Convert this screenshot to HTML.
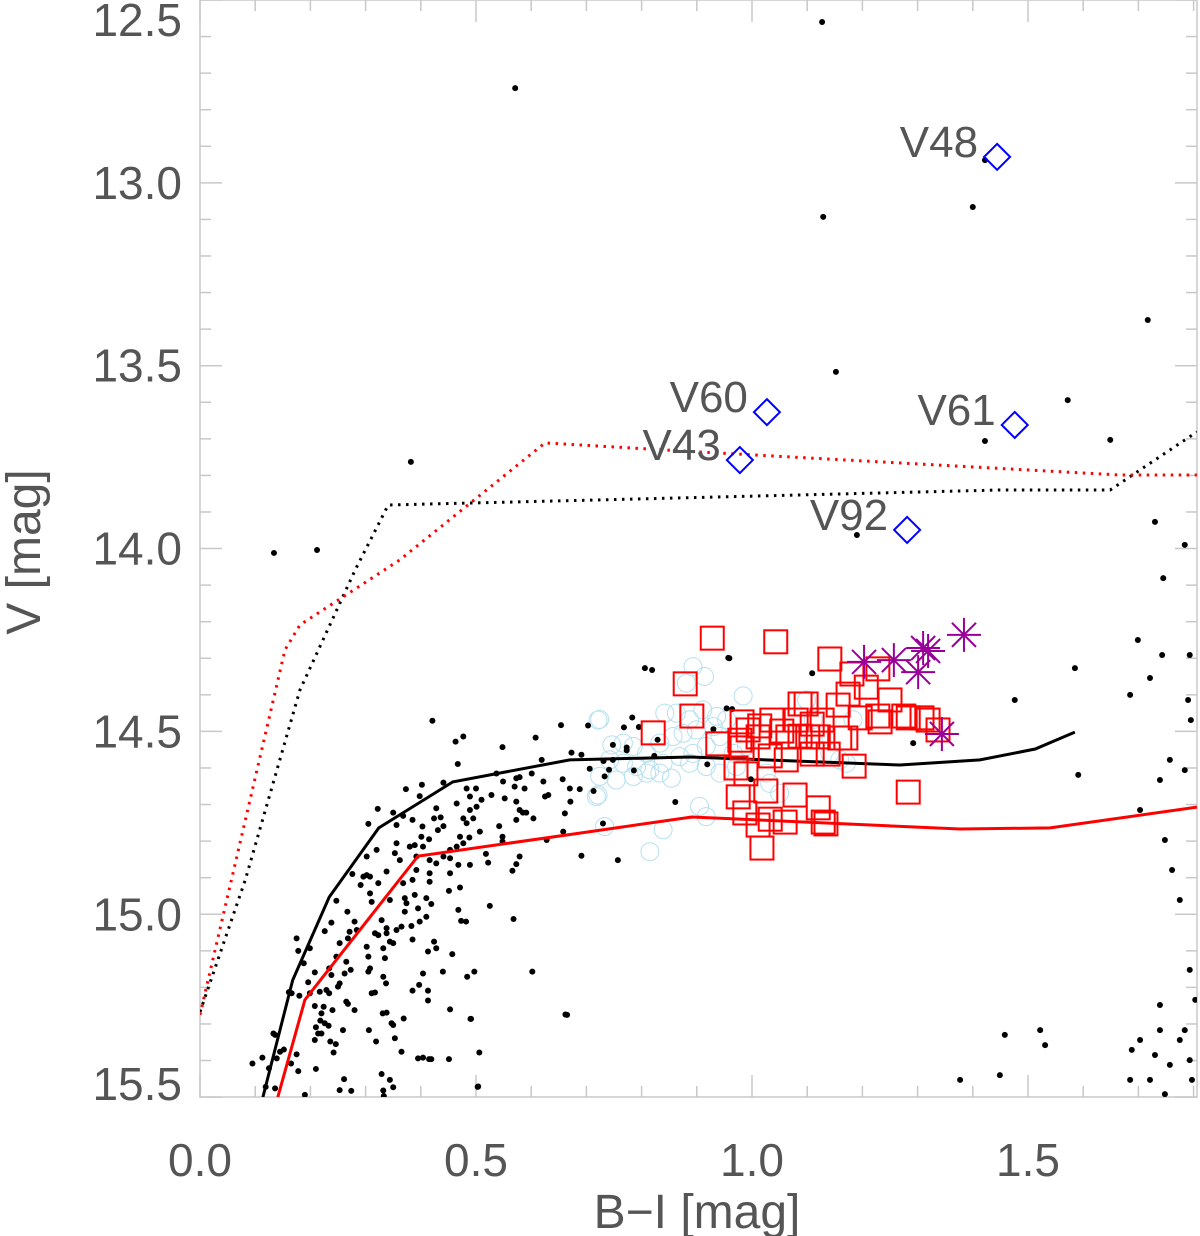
<!DOCTYPE html>
<html><head><meta charset="utf-8"><style>
body{margin:0;background:#fff;}
svg{display:block;font-family:"Liberation Sans",sans-serif;}
</style></head><body>
<svg id="chart" width="1200" height="1236" viewBox="0 0 1200 1236" xmlns="http://www.w3.org/2000/svg">
<g id="axes"></g>
<g id="marks"></g>
<g id="labels"></g>
</svg>
<script>
const xTicks=[0.0,0.5,1.0,1.5];
const xTickLabels=["0.0","0.5","1.0","1.5"];
const yTicks=[12.5,13.0,13.5,14.0,14.5,15.0,15.5];
const yTickLabels=["12.5","13.0","13.5","14.0","14.5","15.0","15.5"];
const isoBlackSolid=[[0.114,15.5],[0.168,15.18],[0.234,14.953],[0.324,14.764],[0.458,14.638],[0.67,14.578],[0.888,14.57],[1.268,14.592],[1.413,14.578],[1.513,14.548],[1.585,14.502]];
const isoRedSolid=[[0.141,15.5],[0.19,15.234],[0.395,14.841],[0.688,14.778],[0.891,14.734],[1.377,14.767],[1.54,14.764],[1.806,14.707]];
const isoBlackDotted=[[0,15.267],[0.082,14.906],[0.181,14.387],[0.281,14.059],[0.341,13.881],[0.725,13.867],[1.449,13.84],[1.649,13.84],[1.703,13.785],[1.806,13.681]];
const isoRedDotted=[[0,15.275],[0.154,14.277],[0.181,14.209],[0.362,14.031],[0.625,13.711],[0.906,13.736],[1.667,13.799],[1.806,13.799]];
const dots=[[0.421,14.471],[0.463,14.528],[0.477,14.514],[0.467,14.589],[0.548,14.543],[0.608,14.517],[0.654,14.483],[0.673,14.558],[0.373,14.658],[0.402,14.646],[0.441,14.64],[0.398,14.677],[0.322,14.712],[0.35,14.722],[0.305,14.753],[0.356,14.756],[0.368,14.731],[0.385,14.742],[0.403,14.76],[0.424,14.738],[0.428,14.71],[0.436,14.735],[0.441,14.759],[0.431,14.77],[0.415,14.795],[0.401,14.788],[0.389,14.811],[0.38,14.815],[0.404,14.815],[0.356,14.806],[0.353,14.833],[0.32,14.824],[0.302,14.842],[0.362,14.852],[0.392,14.842],[0.416,14.852],[0.428,14.861],[0.441,14.842],[0.453,14.824],[0.465,14.815],[0.477,14.806],[0.471,14.788],[0.483,14.751],[0.489,14.715],[0.465,14.697],[0.477,14.738],[0.495,14.738],[0.501,14.706],[0.51,14.687],[0.489,14.678],[0.483,14.656],[0.5,14.656],[0.528,14.674],[0.537,14.615],[0.549,14.637],[0.552,14.683],[0.573,14.628],[0.579,14.625],[0.57,14.651],[0.588,14.656],[0.601,14.615],[0.619,14.578],[0.622,14.637],[0.631,14.674],[0.625,14.678],[0.573,14.692],[0.579,14.715],[0.585,14.722],[0.591,14.722],[0.573,14.742],[0.604,14.738],[0.542,14.759],[0.507,14.774],[0.488,14.79],[0.548,14.788],[0.548,14.801],[0.657,14.631],[0.658,14.774],[0.661,14.724],[0.671,14.692],[0.67,14.656],[0.628,14.797],[0.518,14.835],[0.522,14.859],[0.489,14.865],[0.468,14.865],[0.453,14.847],[0.453,14.888],[0.416,14.888],[0.416,14.911],[0.392,14.879],[0.385,14.906],[0.368,14.915],[0.338,14.883],[0.323,14.915],[0.308,14.897],[0.296,14.897],[0.291,14.92],[0.302,14.893],[0.276,14.89],[0.308,14.943],[0.311,14.966],[0.344,14.961],[0.371,14.956],[0.389,14.947],[0.41,14.956],[0.419,14.972],[0.395,14.984],[0.374,14.97],[0.371,14.993],[0.41,15.007],[0.398,15.02],[0.383,15.032],[0.365,15.034],[0.356,15.043],[0.329,15.016],[0.338,15.038],[0.317,15.052],[0.323,15.057],[0.338,15.052],[0.344,15.075],[0.35,15.079],[0.332,15.093],[0.335,15.12],[0.385,15.069],[0.424,15.075],[0.428,15.093],[0.413,15.102],[0.457,15.109],[0.302,15.089],[0.305,15.116],[0.308,15.148],[0.305,15.157],[0.332,15.171],[0.337,15.189],[0.311,15.216],[0.317,15.214],[0.284,15.043],[0.28,15.02],[0.271,15.048],[0.268,15.066],[0.253,15.079],[0.265,15.13],[0.273,15.152],[0.262,15.162],[0.247,15.116],[0.234,15.148],[0.253,15.189],[0.25,15.198],[0.238,15.166],[0.229,15.207],[0.234,15.216],[0.217,15.212],[0.199,15.216],[0.208,15.251],[0.224,15.253],[0.22,15.271],[0.24,15.262],[0.265,15.239],[0.268,15.245],[0.28,15.262],[0.218,15.291],[0.226,15.298],[0.233,15.305],[0.21,15.309],[0.22,15.326],[0.214,15.326],[0.208,15.344],[0.236,15.348],[0.246,15.355],[0.242,15.378],[0.259,15.317],[0.306,15.317],[0.319,15.348],[0.331,15.271],[0.338,15.269],[0.347,15.298],[0.35,15.303],[0.353,15.339],[0.369,15.285],[0.365,15.376],[0.385,15.209],[0.397,15.193],[0.413,15.209],[0.413,15.236],[0.404,15.162],[0.44,15.157],[0.453,15.26],[0.484,15.171],[0.497,15.157],[0.49,15.286],[0.506,15.378],[0.602,15.157],[0.662,15.274],[0.525,14.977],[0.568,15.013],[0.468,14.988],[0.473,15.018],[0.482,15.02],[0.451,14.936],[0.471,14.927],[0.566,14.881],[0.573,14.863],[0.579,14.842],[0.395,15.394],[0.404,15.392],[0.415,15.396],[0.419,15.396],[0.451,15.396],[0.329,15.437],[0.344,15.453],[0.35,15.473],[0.332,15.482],[0.333,15.497],[0.253,15.481],[0.274,15.483],[0.261,15.451],[0.21,15.423],[0.178,15.429],[0.19,15.494],[0.175,15.383],[0.165,15.408],[0.152,15.37],[0.145,15.376],[0.139,15.394],[0.133,15.326],[0.136,15.33],[0.125,15.421],[0.113,15.392],[0.095,15.408],[0.119,15.472],[0.136,15.476],[0.161,15.213],[0.166,15.216],[0.18,15.223],[0.196,15.186],[0.208,15.159],[0.188,15.134],[0.178,15.1],[0.199,15.093],[0.175,15.066],[0.226,15.046],[0.238,15.023],[0.247,14.963],[0.267,14.993],[0.504,15.471],[0.491,15.286],[0.503,15.472],
[1.127,12.56],[0.571,12.741],[1.422,12.938],[1.4,13.066],[1.129,13.093],[1.717,13.375],[1.152,13.517],[1.572,13.594],[1.422,13.706],[1.649,13.703],[0.382,13.763],[0.134,14.012],[0.212,14.004],[1.19,13.963],[1.73,13.927],[1.784,13.99],[1.745,14.081],[1.699,14.25],[1.743,14.291],[1.793,14.291],[1.585,14.327],[1.476,14.414],[1.685,14.4],[1.721,14.354],[1.795,14.469],[1.784,14.606],[1.591,14.619],[1.739,14.633],[1.703,14.715],[1.748,14.797],[1.761,14.879],[1.775,14.961],[1.784,15.317],[1.793,15.399],[1.797,15.453],[1.757,15.412],[1.703,15.344],[1.685,15.453],[1.739,15.248],[1.449,15.44],[1.522,15.317],[1.531,15.358],[1.377,15.453],[1.458,15.33],[1.688,15.371],[0.665,15.275],[0.806,14.327],[0.957,14.299],[1.757,14.578],[1.793,15.152],[1.803,15.234],[1.79,14.414],[1.748,15.492],[1.73,15.385],[1.739,15.317],[1.721,15.453],[1.775,15.344],
[0.959,14.3],[0.819,14.332],[1.109,14.341],[0.954,14.437],[0.964,14.439],[0.783,14.462],[0.703,14.484],[0.768,14.489],[0.795,14.488],[0.93,14.494],[0.829,14.523],[0.748,14.537],[0.773,14.544],[0.773,14.552],[0.691,14.564],[0.823,14.567],[0.731,14.581],[0.748,14.578],[0.919,14.59],[0.706,14.602],[0.741,14.605],[0.786,14.607],[0.733,14.623],[0.998,14.631],[0.688,14.658],[0.713,14.663],[0.861,14.693],[0.73,14.752],[1.292,14.532],[0.691,14.84],[0.757,14.852]];
const circles=[[0.724,14.467],[0.893,14.323],[0.914,14.35],[0.881,14.368],[0.984,14.403],[0.842,14.45],[0.863,14.45],[0.887,14.468],[0.911,14.441],[0.936,14.459],[0.954,14.468],[0.767,14.532],[0.785,14.541],[0.809,14.56],[0.833,14.532],[0.857,14.514],[0.875,14.505],[0.899,14.496],[0.93,14.487],[0.942,14.514],[0.742,14.578],[0.767,14.587],[0.791,14.596],[0.815,14.605],[0.839,14.587],[0.869,14.569],[0.893,14.56],[0.917,14.541],[0.966,14.56],[0.99,14.541],[0.724,14.623],[0.754,14.633],[0.785,14.623],[0.809,14.614],[0.833,14.614],[0.854,14.628],[0.887,14.587],[0.917,14.596],[0.942,14.614],[0.972,14.596],[1.032,14.642],[1.05,14.669],[1.099,14.414],[1.111,14.523],[1.141,14.56],[1.159,14.578],[1.171,14.587],[0.718,14.678],[0.733,14.76],[0.839,14.769],[0.905,14.705],[0.917,14.733],[0.815,14.829],[1.183,14.468],[1.111,14.468],[1.026,14.614],[0.721,14.469],[0.721,14.674],[0.746,14.537]];
const squares=[[0.928,14.245],[1.043,14.255],[0.879,14.37],[1.141,14.302],[0.891,14.458],[0.821,14.504],[0.938,14.534],[0.982,14.474],[1.014,14.485],[1.181,14.343],[1.228,14.329],[1.207,14.379],[1.174,14.398],[1.156,14.428],[1.127,14.469],[1.228,14.458],[1.087,14.425],[1.098,14.425],[1.036,14.469],[1.109,14.48],[1.08,14.469],[1.054,14.499],[1.065,14.515],[1.101,14.515],[1.12,14.515],[1.159,14.518],[1.17,14.518],[1.196,14.463],[1.232,14.474],[1.283,14.463],[1.308,14.463],[1.319,14.469],[1.337,14.496],[1.275,14.458],[1.25,14.414],[0.978,14.524],[0.993,14.496],[1.011,14.515],[0.982,14.545],[1.033,14.567],[1.087,14.513],[0.989,14.616],[1.062,14.578],[1.109,14.562],[1.138,14.562],[1.185,14.595],[1.283,14.666],[0.975,14.679],[1.025,14.663],[0.987,14.723],[1.033,14.74],[1.011,14.756],[1.018,14.819],[1.06,14.748],[1.078,14.674],[1.12,14.709],[1.129,14.748],[1.134,14.753],[0.971,14.6]];
const stars=[[1.203,14.31],[1.257,14.305],[1.319,14.28],[1.384,14.236],[1.301,14.338],[1.344,14.507],[1.31,14.272]];
const varNames=["V48","V60","V43","V61","V92"];
const varB=[1.444,1.027,0.978,1.476,1.281];
const varV=[12.929,13.627,13.758,13.662,13.949];

const NS="http://www.w3.org/2000/svg";
const L=200,R=1197,T=0,B=1097;
const X=b=>L+b*552;
const Y=v=>(v-12.5)*365.7;
function mk(tag,attrs,parent){const e=document.createElementNS(NS,tag);for(const k in attrs)e.setAttribute(k,attrs[k]);parent.appendChild(e);return e;}
const axes=document.getElementById('axes'),marks=document.getElementById('marks'),labels=document.getElementById('labels');
const ax="#c8c8c8";
let e=mk('rect',{x:L,y:T,width:R-L,height:B-T,fill:'none',stroke:ax,'stroke-width':1.5},axes);


for(let i=0;i<=18;i++){const x=X(i/10),len=i%5===0?22:11;
 e=mk('line',{x1:x,x2:x,y1:B,y2:B-len,stroke:ax,'stroke-width':1.5},axes);
 
 
 mk('line',{x1:x,x2:x,y1:T,y2:T+len,stroke:ax,'stroke-width':1.5},axes);}
for(let i=0;i<=30;i++){const y=Y(12.5+i/10),len=i%5===0?22:11;
 e=mk('line',{x1:L,x2:L+len,y1:y,y2:y,stroke:ax,'stroke-width':1.5},axes);
 
 
 mk('line',{x1:R,x2:R-len,y1:y,y2:y,stroke:ax,'stroke-width':1.5},axes);}
const tc="#555";
xTicks.forEach((t,i)=>{e=mk('text',{x:X(t),y:1176,'text-anchor':'middle','font-size':46,fill:tc},labels);e.textContent=xTickLabels[i];
 
 });
yTicks.forEach((t,i)=>{let y=Y(t)+16;if(i===0)y=36;if(i===yTicks.length-1)y=1100;
 e=mk('text',{x:182,y:y,'text-anchor':'end','font-size':46,fill:tc},labels);e.textContent=yTickLabels[i];
 
 });
e=mk('text',{x:697,y:1228,'text-anchor':'middle','font-size':48,fill:tc},labels);e.textContent="B\u2212I [mag]";


e=mk('text',{x:0,y:0,'text-anchor':'middle','font-size':48,fill:tc,transform:'translate(40,552) rotate(-90)'},labels);e.textContent="V [mag]";



const clip=mk('clipPath',{id:'pc'},mk('defs',{},marks));mk('rect',{x:L,y:T,width:R-L,height:B-T},clip);
const g=mk('g',{'clip-path':'url(#pc)'},marks);
function line(pts,color,dash,name){const d=pts.map((p,i)=>(i?'L':'M')+X(p[0]).toFixed(1)+' '+Y(p[1]).toFixed(1)).join(' ');
 const a={d:d,fill:'none',stroke:color,'stroke-width':3};if(dash){a['stroke-dasharray']='2.5 5.5';}
 const el=mk('path',a,g);
 }
circles.forEach(p=>{e=mk('circle',{cx:X(p[0]),cy:Y(p[1]),r:9,fill:'none',stroke:'#b5e0ef','stroke-width':1},g);
 
 });
dots.forEach(p=>{e=mk('circle',{cx:X(p[0]),cy:Y(p[1]),r:3,fill:'#000'},g);
 
 });
line(isoBlackSolid,'#000',false,'isochrone-black-solid');
line(isoRedSolid,'#f00',false,'isochrone-red-solid');
line(isoBlackDotted,'#000',true,'isochrone-black-dotted');
line(isoRedDotted,'#f00',true,'isochrone-red-dotted');
squares.forEach(p=>{e=mk('rect',{x:X(p[0])-11.5,y:Y(p[1])-11.5,width:23,height:23,fill:'none',stroke:'#f00','stroke-width':2},g);
 
 });
stars.forEach(p=>{const cx=X(p[0]),cy=Y(p[1]),r=17;let d='';for(let k=0;k<4;k++){const a=k*Math.PI/4;d+=`M${cx-r*Math.cos(a)} ${cy-r*Math.sin(a)}L${cx+r*Math.cos(a)} ${cy+r*Math.sin(a)}`;}
 e=mk('path',{d:d,stroke:'#990099','stroke-width':2,fill:'none'},g);
 
 });
varNames.forEach((n,i)=>{const cx=X(varB[i]),cy=Y(varV[i]);
 e=mk('path',{d:`M${cx} ${cy-13}L${cx+13} ${cy}L${cx} ${cy+13}L${cx-13} ${cy}Z`,fill:'none',stroke:'#00f','stroke-width':2},g);
 
 
 e=mk('text',{x:cx-19,y:cy,'text-anchor':'end','font-size':44,fill:tc},g);e.textContent=n;
 
 });
</script>
</body></html>
